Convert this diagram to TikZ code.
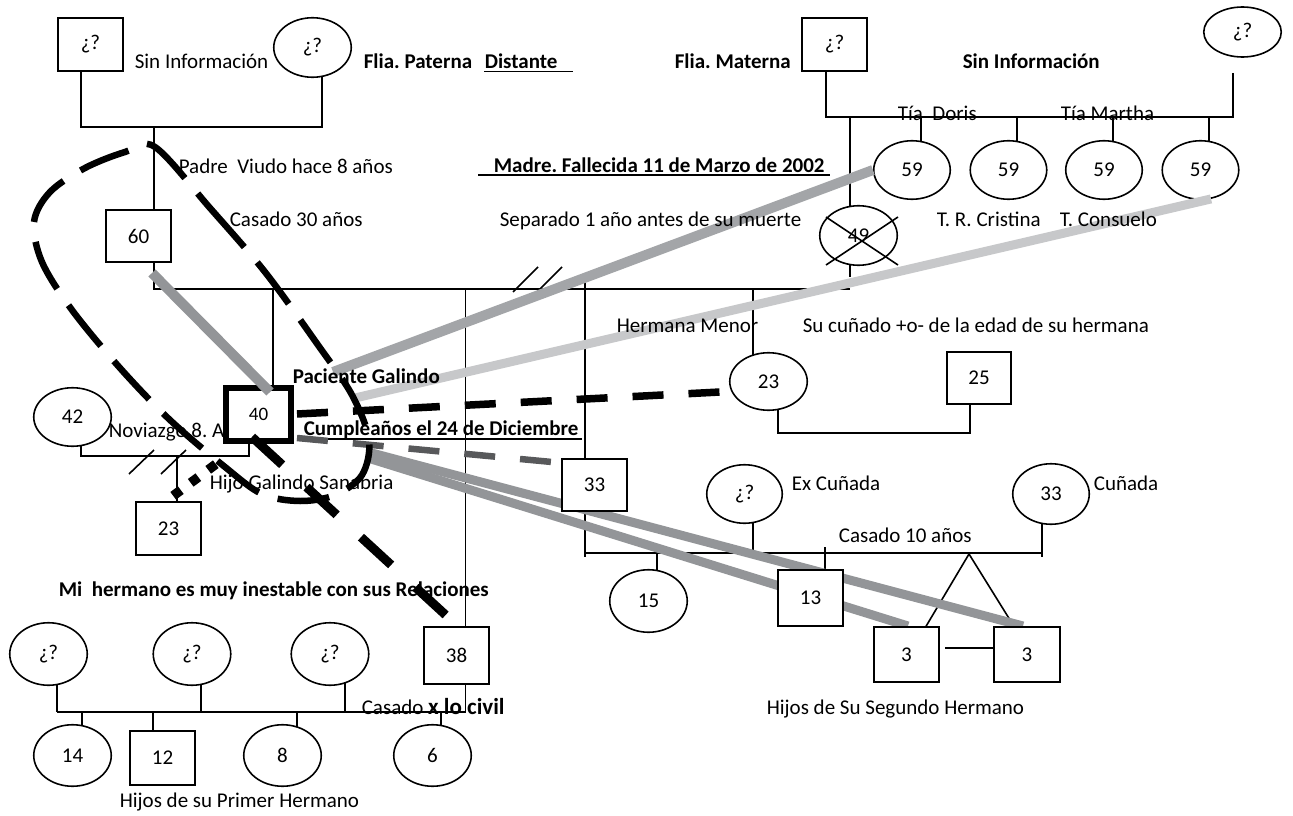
\documentclass[tikz,border=0pt]{standalone}
\usepackage{fontspec}
\setmainfont{Carlito}
\usetikzlibrary{shapes.geometric}
\definecolor{bondgray}{HTML}{939598}
\definecolor{midgray}{HTML}{A3A5A8}
\definecolor{palegray}{HTML}{C7C8CA}
\definecolor{deepgray}{HTML}{58595B}
\frenchspacing
\begin{document}
\begin{tikzpicture}[x=1pt,y=-1pt,line width=1.6pt,
  every node/.style={font=\fontsize{21}{25}\selectfont},
  male/.style={draw,fill=white,rectangle,inner sep=0pt,minimum width=65.5pt,minimum height=53.5pt},
  female/.style={draw,fill=white,ellipse,inner sep=0pt,minimum width=77.5pt,minimum height=59.5pt},
  lbl/.style={anchor=base west,inner sep=0pt},
  blbl/.style={lbl,font=\fontsize{21}{25}\selectfont\bfseries},
  bond/.style={line width=10pt,line cap=butt},
  conflict/.style={line width=7.5pt,dash pattern=on 31pt off 25pt},
  rupture/.style={line width=9pt,dash pattern=on 41pt off 33pt},
  fusion/.style={line width=6.5pt,dash pattern=on 52pt off 20pt}]
\fill[white] (0,0) rectangle (1293,816);
\useasboundingbox (0,0) rectangle (1293,816);

% ---------- family lines ----------
% paternal grandparents and the father
\draw (81,70) |- (322,127) -- (322,75);
\draw (154,127) -- (154,212);
% parents' marriage line with the separation marks
\draw (154,260) |- (850,289);
\draw (513,292) -- (538,267);
\draw (537,292) -- (562,267);
% maternal grandparents and their daughters
\draw (826,70) -- (826,118);
\draw (826,117) -- (1233,117);
\draw (1233,73) -- (1233,118);
\draw (850,117) -- (850,208);
\draw (850,264) -- (850,277);
\foreach \t in {921,1017,1113,1209} \draw (\t,117) -- (\t,143);
% children of the parents
\draw (273,289) -- (273,388);
\draw (465.5,289) -- (465.5,628);
\draw (585,282) -- (585,460);
\draw (753,289) -- (753,355);
% patient's courtship and son
\draw (81,444) |- (249,456) -- (249,441);
\draw (129,474) -- (154,450);
\draw (161,474) -- (186,450);
\draw (177,456) -- (177,503);
% younger sister and her partner
\draw (778,408) |- (970,433) -- (970,402);
% second brother, his two unions and children
\draw (585,510) -- (585,557);
\draw (585,553) -- (1042,553);
\draw (753,521) -- (753,553);
\draw (657,547) -- (657,572);
\draw (825,547) -- (825,572);
\draw (1042,522) -- (1042,557);
\draw (925,628) -- (969,554) -- (1015,628);
\draw (945,648) -- (994,648);
% first brother, his partners and children
\draw (465.5,683) -- (465.5,712);
\draw (57,712) -- (465.5,712);
\foreach \t in {57,201,345} \draw (\t,683) -- (\t,712);
\draw (82,712) -- (82,727);
\draw (153,712) -- (153,732);
\draw (297,712) -- (297,727);
\draw (441,712) -- (441,727);

% ---------- bond end points ----------
\coordinate (auntBondStart) at (333,372);
\coordinate (consueloBondStart) at (355,398);
\coordinate (twinBondStartA) at (368,452);
\coordinate (twinBondStartB) at (368,458);
\coordinate (fatherBondStart) at (152,273);
\coordinate (patientTop) at (270,392);
\coordinate (patRightA) at (297,414);
\coordinate (patRightB) at (297,438);
\coordinate (sisterNear) at (720,392);
\coordinate (brotherNear) at (552,462);
\coordinate (patBottom) at (252,437);
\coordinate (elderNear) at (450,619);
\coordinate (sonTop) at (173.2,495.8);
\coordinate (patCorner) at (215.8,464.2);

% label partly hidden under the patient's box
\node[lbl] (noviazgo) at (108,437) {Noviazgo 8. Años};

% ---------- people ----------
\node[male] (gpP) at (90.5,44.5) {¿?};
\node[female] (gmP) at (312.5,47.5) {¿?};
\node[male] (gpM) at (834.5,44.5) {¿?};
\node[female,minimum height=50pt] (gmM) at (1242.5,32) {¿?};
\node[male,minimum height=52.5pt] (father) at (138.5,236) {60};
\node[female] (mother) at (858.5,235.5) {49};
\draw (826,217) -- (898,265);
\draw (826,265) -- (898,217);
\node[female,minimum width=76.5pt,minimum height=58.5pt] (tia1) at (912,170) {59};
\node[female,minimum width=76.5pt,minimum height=58.5pt] (tia2) at (1008.5,170) {59};
\node[female,minimum width=76.5pt,minimum height=58.5pt] (tia3) at (1104,170) {59};
\node[female,minimum width=76.5pt,minimum height=58.5pt] (tia4) at (1200.5,170) {59};

% emotional bonds running under the symbols
\draw[bond,midgray] (auntBondStart) -- (tia1.west);
\draw[bond,line width=9pt,palegray] (consueloBondStart) -- (tia4.290);

\node[female,minimum height=58.5pt] (novia) at (72.5,417) {42};
\node[male] (son) at (168.5,528.5) {23};
\node[female,minimum height=57.5pt] (sister) at (768.5,381.5) {23};
\node[male,minimum width=64.5pt,minimum height=52.5pt] (brotherInLaw) at (979,378) {25};
\node[female,minimum width=75.5pt,minimum height=58.5pt] (exWife) at (744.5,494) {¿?};
\node[female,minimum width=76.5pt,minimum height=60.5pt] (wife) at (1051,494) {33};

\draw[bond,line width=9pt,bondgray] (twinBondStartA) -- (1023,626) coordinate (twinTopB);
\draw[bond,line width=9pt,bondgray] (twinBondStartB) -- (908,626) coordinate (twinTopA);

\node[male,minimum height=52.5pt] (brother2) at (594.5,485) {33};
\node[female,minimum height=62.5pt] (n15) at (648.5,601) {15};
\node[male,minimum height=56pt] (n13) at (810.5,598) {13};
\node[male,minimum height=55.5pt] (twin1) at (906.5,654.5) {3};
\node[male,minimum height=55.5pt] (twin2) at (1027,654.5) {3};
\node[male,minimum height=57.5pt] (brother1) at (456.5,655.5) {38};
\node[female,minimum height=62.5pt] (pa1) at (48.5,654) {¿?};
\node[female,minimum height=62.5pt] (pa2) at (192,654) {¿?};
\node[female,minimum height=62.5pt] (pa3) at (330,654) {¿?};
\node[female,minimum height=61.5pt] (c14) at (72.5,755.5) {14};
\node[male,minimum height=54.5pt] (c12) at (162.5,758) {12};
\node[female,minimum height=61.5pt] (c8) at (282.5,755.5) {8};
\node[female,minimum height=61.5pt] (c6) at (432.5,755.5) {6};

% the patient
\node[male,line width=6pt,minimum width=65pt,minimum height=53pt,
      font=\fontsize{19}{23}\selectfont] (patient) at (258.5,414.5) {40};
\draw[bond,bondgray] (fatherBondStart) -- (patientTop);

% ---------- labels ----------
\node[lbl] at (134,68) {Sin Información};
\node[blbl] at (363,68) {Flia. Paterna};
\node[blbl] (distante) at (484,68) {Distante};
\draw[line width=1.5pt] (484,71.5) -- (573,71.5);
\node[blbl] at (674,68) {Flia. Materna};
\node[blbl] at (962,68) {Sin Información};
\node[lbl] at (178,173) {Padre~ Viudo hace 8 años};
\node[lbl] at (229,226) {Casado 30 años};
\node[blbl] at (493,172) {Madre. Fallecida 11 de Marzo de 2002};
\draw[line width=1.5pt] (478,175) -- (830,175);
\node[lbl] at (499,226) {Separado 1 año antes de su muerte};
\node[lbl] at (897,121) {Tía~ Doris};
\node[lbl] at (1060,121) {Tía Martha};
\node[lbl] at (936,226) {T. R. Cristina};
\node[lbl] at (1059,226) {T. Consuelo};
\node[lbl] at (616,332) {Hermana Menor};
\node[lbl] at (802,332) {Su cuñado +o- de la edad de su hermana};
\node[blbl] at (292,383) {Paciente Galindo};
\node[blbl] at (303,435) {Cumpleaños el 24 de Diciembre};
\draw[line width=1.5pt] (303,439) -- (582,439);
\node[lbl] at (209,489) {Hijo Galindo Sanabria};
\node[lbl] at (791,490) {Ex Cuñada};
\node[lbl] at (838,542) {Casado 10 años};
\node[lbl] at (1093,490) {Cuñada};
\node[blbl] at (58,596) {Mi~ hermano es muy inestable con sus Relaciones};
\node[lbl] at (361,714) {Casado {\fontsize{23}{27}\selectfont\bfseries x lo civil}};
\node[lbl] at (766,714) {Hijos de Su Segundo Hermano};
\node[lbl] at (119,807) {Hijos de su Primer Hermano};

% ---------- relational lines on top ----------
\draw[conflict] (patRightA) -- (sisterNear);
\draw[conflict,line width=6.5pt,deepgray] (patRightB) -- (brotherNear);
\draw[rupture] (patBottom) -- (elderNear);
\draw[line width=9.5pt,dash pattern=on 9.5pt off 12.3pt] (sonTop) -- (patCorner);
\draw[fusion] plot[smooth cycle,tension=0.55] coordinates {
  (155,147) (210,208) (265,272) (318,345) (352,395) (369,440) (362,475)
  (335,495) (300,501) (262,494) (225,467) (170,420) (120,368) (72,310)
  (42,262) (34,222) (50,192) (85,168) (125,152)};
\end{tikzpicture}
\end{document}
